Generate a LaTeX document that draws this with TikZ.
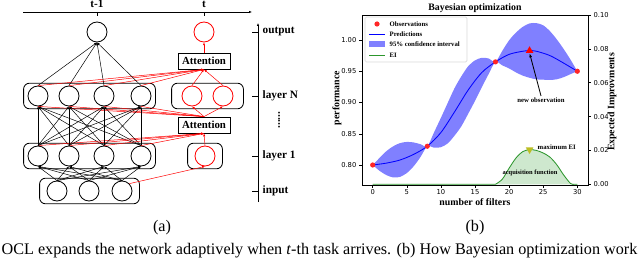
\documentclass[tikz,border=0pt]{standalone}
\usepackage{fontspec}
\setmainfont{Liberation Serif}
\newfontfamily\plotsf{DejaVu Sans}
\usetikzlibrary{shapes, shapes.geometric, arrows.meta, positioning, fit}
\newcommand{\fsz}[1]{\fontsize{#1}{#1}\selectfont}
\definecolor{bandblue}{RGB}{128,128,255}
\definecolor{eigreen}{RGB}{44,150,44}
\definecolor{eifill}{RGB}{206,232,206}
\definecolor{olivey}{RGB}{188,189,34}
\tikzstyle{every node}=[inner sep=1pt]
\tikzstyle{unit}=[draw,circle,minimum size=5mm,inner sep=0pt,line width=0.6pt]
\tikzstyle{newunit}=[unit,draw=red]
\tikzstyle{layer}=[draw,rectangle,rounded corners=1.5mm,line width=0.6pt,inner ysep=0.6mm]
\tikzstyle{att}=[draw,fill=white,rectangle,line width=0.6pt,minimum width=13mm,minimum height=4mm,inner sep=0pt,font=\fsz{7.7}\bfseries]
\tikzstyle{lbl}=[font=\fsz{8}\bfseries]
\tikzstyle{wire}=[line width=0.35pt]
\tikzstyle{redwire}=[wire,red]
\tikzstyle{captext}=[font=\fsz{11.5}]
\tikzstyle{tk}=[font=\fsz{4.8}\plotsf]
\tikzstyle{axl}=[font=\fsz{7}\bfseries]
\tikzstyle{leg}=[font=\fsz{4.8}\bfseries,anchor=west]
\tikzstyle{obs}=[circle,fill=red!85,minimum size=1.3mm,inner sep=0pt]

\begin{document}
\begin{tikzpicture}[x=0.25mm,y=-0.25mm,>={Latex[length=2pt,width=1.6pt]}]
    \useasboundingbox (0,0) rectangle (640,258);
    % (a) network
    \coordinate (tstart) at (23,12);
    \coordinate (tend) at (252,12);
    \draw[->,wire] (tstart) -- (tend);
    \draw[wire] (97,12) -- (97,16);
    \draw[wire] (204,12) -- (204,16);
    \node[lbl] (tprev) at (97,4) {t-1};
    \node[lbl] (tnow) at (204,4) {t};

    \node[unit] (o) at (97,32) {};
    \node[newunit] (ro) at (204,32) {};
    \node[att] (attN) at (204,61) {Attention};
    \node[att] (att1) at (204,125) {Attention};
    \foreach \x [count=\i] in {38,69,104,141} {
        \node[unit] (n\i) at (\x,96) {};
        \node[unit] (h\i) at (\x,156) {};
    }
    \foreach \x [count=\i] in {57,89,122}
        \node[unit] (i\i) at (\x,191) {};
    \node[newunit] (rn1) at (192,96) {};
    \node[newunit] (rn2) at (223,96) {};
    \node[newunit] (rh) at (205,156) {};

    \node[layer, fit=(n1)(n4), inner xsep=1mm] (layN) {};
    \node[layer, fit=(rn1)(rn2), inner xsep=2.5mm] (rlayN) {};
    \node[layer, fit=(h1)(h4), inner xsep=1mm] (lay1) {};
    \node[layer, fit=(rh), inner xsep=1.75mm] (rlay1) {};
    \node[layer, fit=(i1)(i3), inner xsep=1.75mm] (layin) {};

    \foreach \i in {1,...,4} {
        \draw[->,wire] (n\i.north) -- (o.south);
        \foreach \j in {1,...,4}
            \draw[->,wire] (h\j.north) -- (n\i.south);
        \foreach \j in {1,2,3}
            \draw[->,wire] (i\j.north) -- (h\i.south);
        \draw[->,redwire] (n\i.north) -- (attN.south);
        \draw[redwire] (n\i.south) -- (att1.north);
        \draw[->,redwire] (h\i.north) -- (att1.south);
    }
    \draw[->,redwire] (i3.north east) -- (rh.south);
    \draw[->,redwire] (rh.north) -- (att1.south);
    \foreach \i in {1,2} {
        \draw[->,redwire] (att1.north) -- (rn\i.south);
        \draw[->,redwire] (rn\i.north) -- (attN.south);
    }
    \draw[->,redwire] (attN.north) -- (ro.south);

    % layer axis
    \coordinate (lbot) at (258,202);
    \coordinate (ltop) at (258,23);
    \draw[->,wire] (lbot) -- (ltop);
    \foreach \y/\t [count=\k] in {32/output,96/layer N,156/layer 1,191/input} {
        \draw[wire] (252,\y) -- (258,\y);
        \node[lbl,anchor=west] (lay\k) at (261,\y) {\t};
    }
    \node[lbl,rotate=90] (vdots) at (279,120) {......};
    \node[captext] (capa) at (162,228) {(a)};

    % (b) Bayesian optimization
    \node[axl] (title) at (475,8) {Bayesian optimization};
    \begin{scope}[shift={(372.7,165)},x=1.705mm,y=156.25mm]
        \fill[bandblue] plot[smooth] coordinates {(0,0) (1,.0113) (2,.0221) (3,.0299)
            (4,.035) (5,.0369) (6,.0361) (7,.0333) (8,.03) (9,.0524) (10,.0755) (11,.0994)
            (12,.123) (13,.142) (14,.158) (15,.1674) (16,.1715) (17,.1704) (18,.165)
            (19,.1826) (20,.1995) (21,.2118) (22,.221) (23,.2265) (24,.227) (25,.2235)
            (26,.214) (27,.2008) (28,.1855) (29,.1686) (30,.15)}
          -- plot[smooth] coordinates {(30,.15) (29,.1454) (28,.1405) (27,.1372) (26,.136)
            (25,.1365) (24,.137) (23,.1395) (22,.143) (21,.1482) (20,.1545) (19,.1594)
            (18,.165) (17,.1456) (16,.1245) (15,.1026) (14,.082) (13,.062) (12,.047)
            (11,.0346) (10,.0285) (9,.0276) (8,.03) (7,.0127) (6,-.0021) (5,-.0129)
            (4,-.019) (3,-.0199) (2,-.0161) (1,-.0093) (0,0)} -- cycle;
        \draw[blue,line width=0.6pt] plot[smooth] coordinates {(0,0) (2,.003) (4,.008)
            (6,.017) (8,.03) (10,.052) (12,.085) (14,.12) (16,.148) (18,.165) (20,.177)
            (22,.182) (23,.183) (24,.182) (26,.175) (28,.163) (30,.15)};
        \foreach \d/\v in {0/0,8/.03,18/.165,30/.15}
            \node[obs] (ob\d) at (\d,\v) {};
        \node[regular polygon, regular polygon sides=3, fill=red, minimum size=2.2mm,
            inner sep=0pt] (newp) at (23,.183) {};
    \end{scope}
    \begin{scope}[shift={(372.7,184.3)},x=1.705mm,y=423.25mm]
        \fill[eifill] (18,0) -- plot[smooth] coordinates {(18,0) (19,.003) (20,.0095)
            (21,.0155) (22,.0193) (23,.0205) (24,.02) (25,.0185) (26,.016) (27,.0115)
            (28,.0055) (29,.0005) (29.5,0)} -- cycle;
        \draw[eigreen,line width=0.6pt] (0,0) -- (18,0) -- plot[smooth] coordinates {(18,0)
            (19,.003) (20,.0095) (21,.0155) (22,.0193) (23,.0205) (24,.02) (25,.0185)
            (26,.016) (27,.0115) (28,.0055) (29,.0005) (29.5,0)} -- (30,0);
        \node[regular polygon, regular polygon sides=3, shape border rotate=180,
            fill=olivey, minimum size=2.2mm, inner sep=0pt] (maxei) at (23,.0205) {};
    \end{scope}
    \draw[line width=0.6pt] (362,15) rectangle (588,185);

    \node[leg,font=\fsz{4.6}\bfseries,anchor=center] (acq) at (530,173) {acquisition function};
    \node[leg] (maxlab) at (536,147) {maximum EI};
    \node[leg,anchor=center] (newlab) at (541,100) {new observation};
    \draw[-{Latex[length=3pt,width=2pt]},line width=0.6pt] (newlab.north) -- (newp.south);

    % legend
    \draw[gray!30,rounded corners=1pt,fill=white] (365,17) rectangle (467,62);
    \node[obs] (lgob) at (377,24) {};
    \draw[blue,line width=0.6pt] (369,34) -- (385,34);
    \fill[bandblue] (369,41) rectangle (385,47);
    \draw[eigreen,line width=0.6pt] (369,55) -- (385,55);
    \node[leg] (lg1) at (388,24) {Observations};
    \node[leg] (lg2) at (388,34) {Predictions};
    \node[leg] (lg3) at (388,44) {95\% confidence interval};
    \node[leg] (lg4) at (388,55) {EI};

    % ticks
    \foreach \d [evaluate=\d as \x using 372.7+6.82*\d] in {0,5,...,30} {
        \draw[wire] (\x,185) -- (\x,188);
        \node[tk] (xt\d) at (\x,192.5) {\d};
    }
    \foreach \v/\y [count=\k] in {0.80/165,0.85/133.75,0.90/102.5,0.95/71.25,1.00/40} {
        \draw[wire] (362,\y) -- (359,\y);
        \node[tk,anchor=east] (yl\k) at (358,\y) {\v};
    }
    \foreach \v/\y [count=\k] in {0.00/184.3,0.02/150.4,0.04/116.6,0.06/82.7,0.08/48.9,0.10/15} {
        \draw[wire] (588,\y) -- (591,\y);
        \node[tk,anchor=west] (yr\k) at (592,\y) {\v};
    }
    \node[axl] (xlab) at (475,202) {number of filters};
    \node[axl,rotate=90] (ylab) at (337,98) {performance};
    \node[axl,rotate=90] (ylab2) at (612,102) {Expected Improvments};
    \node[captext] (capb) at (475,228) {(b)};

    \node[captext,anchor=base west] (caption) at (0,254) {OCL expands the network adaptively when \textit{t}-th task arrives. (b) How Bayesian optimization work};
\end{tikzpicture}
\end{document}
